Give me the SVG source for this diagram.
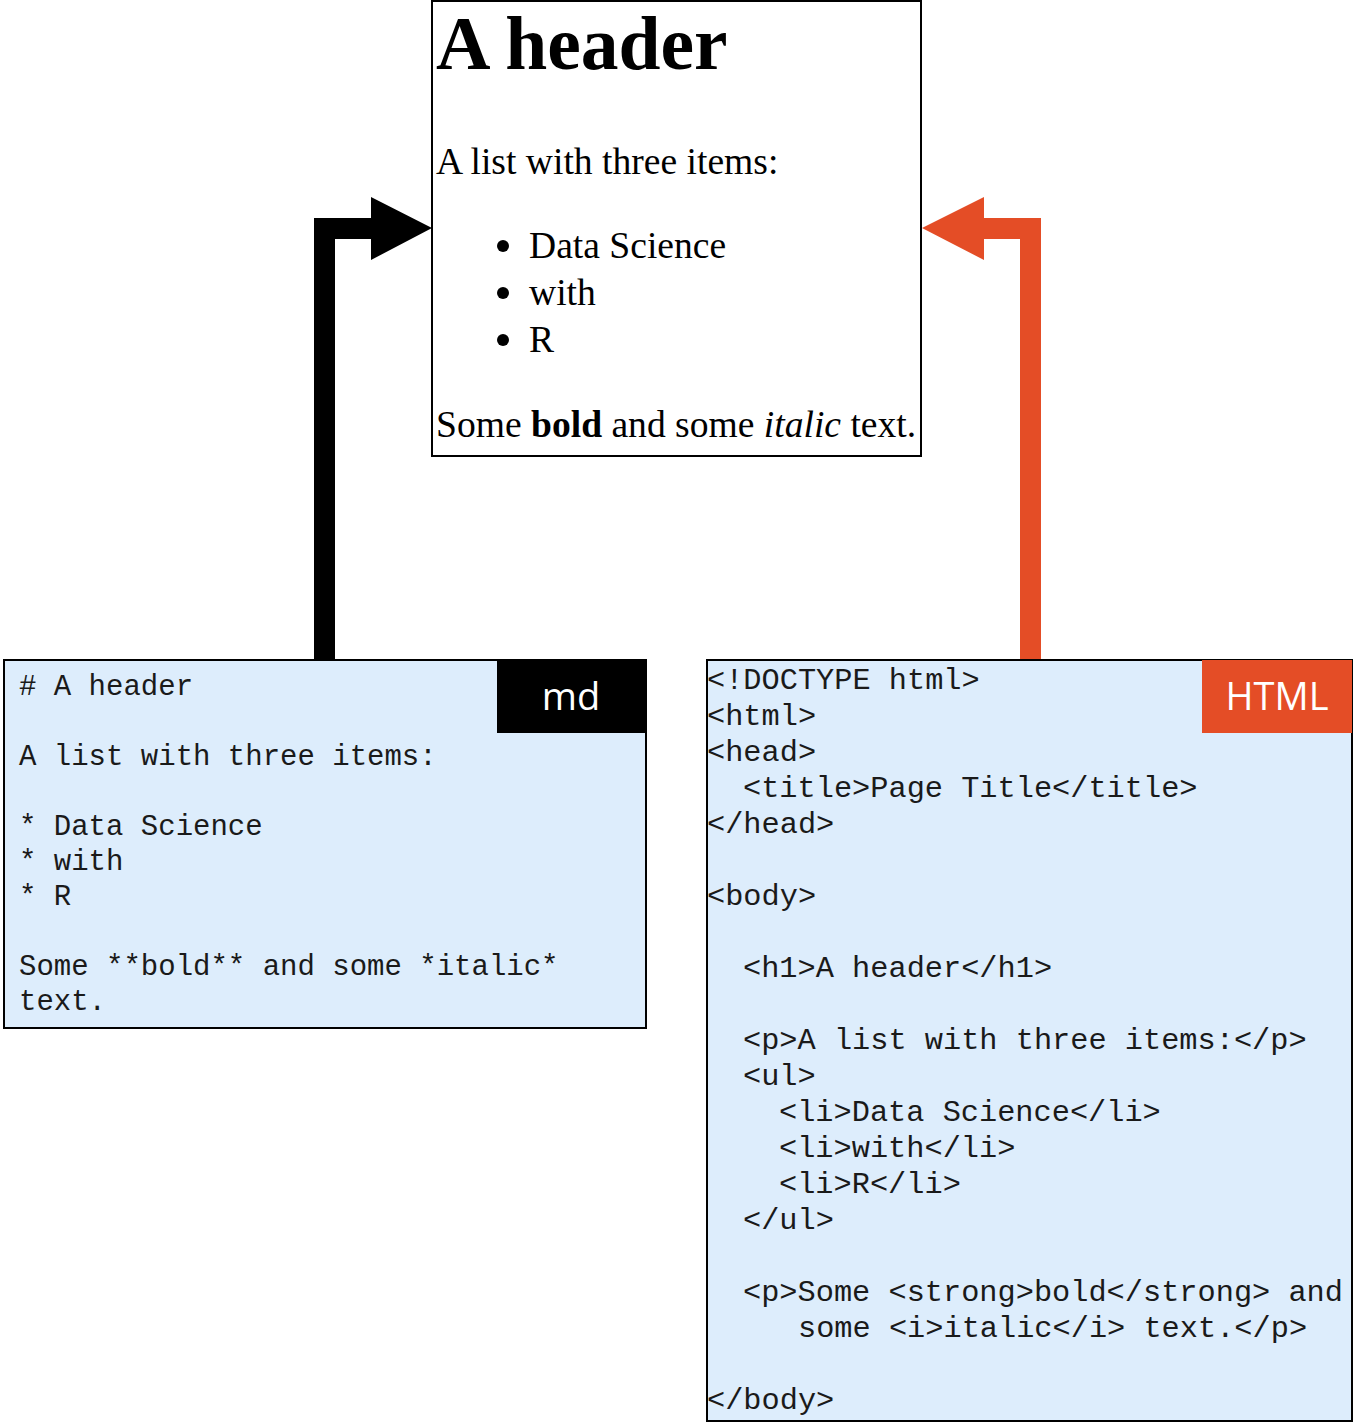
<svg xmlns="http://www.w3.org/2000/svg" width="1354" height="1423" viewBox="0 0 1354 1423">
<style>
.serif{font-family:"Liberation Serif","Times New Roman",serif;fill:#000}
.mono{font-family:"Liberation Mono","Courier New",monospace;fill:#1a1a1a}
.code{fill:#DDEDFC;stroke:#000;stroke-width:2}
.tag{font-family:"Open Sans","Noto Sans",sans-serif;fill:#fff;font-size:38px;text-anchor:middle}
</style>
<rect width="1354" height="1423" fill="#fff"/>
<g id="connectors">
<path d="M314,660 V218 H371 V197 L432,228 L371,260 V239 H335 V660 Z" fill="#000"/>
<path d="M1041,660 V218 H984 V197 L922,228 L984,260 V239 H1020 V660 Z" fill="#E44D26"/>
</g>
<g id="rendered">
<rect x="432" y="1" width="489" height="455" fill="#fff" stroke="#000" stroke-width="2"/>
<text class="serif" x="436" y="69" font-size="75.5" font-weight="bold">A header</text>
<text class="serif" x="436" y="174" font-size="37.6">A list with three items:</text>
<circle cx="503" cy="246" r="6" fill="#000"/>
<circle cx="503" cy="293" r="6" fill="#000"/>
<circle cx="503" cy="340" r="6" fill="#000"/>
<text class="serif" x="529" y="258" font-size="37.6">Data Science</text>
<text class="serif" x="529" y="305" font-size="37.6">with</text>
<text class="serif" x="529" y="352" font-size="37.6">R</text>
<text class="serif" x="436" y="437" font-size="37.6">Some <tspan font-weight="bold">bold</tspan> and some <tspan font-style="italic">italic</tspan> text.</text>
</g>
<g id="md">
<rect class="code" x="4" y="660" width="642" height="368"/>
<rect x="497" y="660" width="149" height="73" fill="#000"/>
<text class="tag" x="571" y="710">md</text>
<g class="mono" font-size="29">
<text x="19" y="695"># A header</text>
<text x="19" y="765">A list with three items:</text>
<text x="19" y="835">* Data Science</text>
<text x="19" y="870">* with</text>
<text x="19" y="905">* R</text>
<text x="19" y="975">Some **bold** and some *italic*</text>
<text x="19" y="1010">text.</text>
</g>
</g>
<g id="html">
<rect class="code" x="707" y="660" width="645" height="761"/>
<rect x="1202" y="660" width="150" height="73" fill="#E44D26"/>
<text class="tag" x="1277" y="710">HTML</text>
<g class="mono" font-size="30.3">
<text x="707" y="689">&lt;!DOCTYPE html&gt;</text>
<text x="707" y="725">&lt;html&gt;</text>
<text x="707" y="761">&lt;head&gt;</text>
<text x="743" y="797">&lt;title&gt;Page Title&lt;/title&gt;</text>
<text x="707" y="833">&lt;/head&gt;</text>
<text x="707" y="905">&lt;body&gt;</text>
<text x="743" y="977">&lt;h1&gt;A header&lt;/h1&gt;</text>
<text x="743" y="1049">&lt;p&gt;A list with three items:&lt;/p&gt;</text>
<text x="743" y="1085">&lt;ul&gt;</text>
<text x="779" y="1121">&lt;li&gt;Data Science&lt;/li&gt;</text>
<text x="779" y="1157">&lt;li&gt;with&lt;/li&gt;</text>
<text x="779" y="1193">&lt;li&gt;R&lt;/li&gt;</text>
<text x="743" y="1229">&lt;/ul&gt;</text>
<text x="743" y="1301">&lt;p&gt;Some &lt;strong&gt;bold&lt;/strong&gt; and</text>
<text x="798" y="1337">some &lt;i&gt;italic&lt;/i&gt; text.&lt;/p&gt;</text>
<text x="707" y="1409">&lt;/body&gt;</text>
</g>
</g>
</svg>
